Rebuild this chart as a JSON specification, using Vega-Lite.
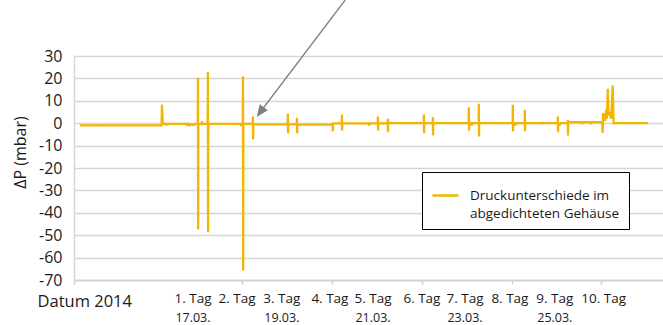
{
  "$schema": "https://vega.github.io/schema/vega-lite/v6.json",
  "autosize": "none",
  "width": 589,
  "height": 224,
  "padding": {"left": 74, "top": 56, "right": 0, "bottom": 45},
  "background": "white",
  "config": {
    "font": "Open Sans",
    "view": {"stroke": null},
    "style": {"guide-label": {"lineHeight": 18}},
    "axis": {"labelColor": "#1a1a1a", "titleColor": "#1a1a1a", "titleFontWeight": "normal", "labelFont": "Open Sans", "titleFont": "Open Sans"}
  },
  "resolve": {"axis": {"x": "independent", "y": "independent"}},
  "layer": [
    {
      "data": {"values": [
        {"t": 0.13, "v": -1.0, "s": "Druckunterschiede im abgedichteten Gehäuse"},
        {"t": 0.55, "v": -1.0, "s": "Druckunterschiede im abgedichteten Gehäuse"},
        {"t": 0.56, "v": -0.5, "s": "Druckunterschiede im abgedichteten Gehäuse"},
        {"t": 0.57, "v": -1.0, "s": "Druckunterschiede im abgedichteten Gehäuse"},
        {"t": 1.55, "v": -1.0, "s": "Druckunterschiede im abgedichteten Gehäuse"},
        {"t": 1.56, "v": -0.5, "s": "Druckunterschiede im abgedichteten Gehäuse"},
        {"t": 1.57, "v": -1.0, "s": "Druckunterschiede im abgedichteten Gehäuse"},
        {"t": 1.95, "v": -1.0, "s": "Druckunterschiede im abgedichteten Gehäuse"},
        {"t": 1.96, "v": 8.3, "s": "Druckunterschiede im abgedichteten Gehäuse"},
        {"t": 1.975, "v": 0.5, "s": "Druckunterschiede im abgedichteten Gehäuse"},
        {"t": 1.99, "v": -0.2, "s": "Druckunterschiede im abgedichteten Gehäuse"},
        {"t": 2.05, "v": -0.3, "s": "Druckunterschiede im abgedichteten Gehäuse"},
        {"t": 2.06, "v": -1.0, "s": "Druckunterschiede im abgedichteten Gehäuse"},
        {"t": 2.07, "v": -0.3, "s": "Druckunterschiede im abgedichteten Gehäuse"},
        {"t": 2.5, "v": -0.3, "s": "Druckunterschiede im abgedichteten Gehäuse"},
        {"t": 2.52, "v": -1.0, "s": "Druckunterschiede im abgedichteten Gehäuse"},
        {"t": 2.54, "v": -0.3, "s": "Druckunterschiede im abgedichteten Gehäuse"},
        {"t": 2.58, "v": -1.0, "s": "Druckunterschiede im abgedichteten Gehäuse"},
        {"t": 2.6, "v": -0.5, "s": "Druckunterschiede im abgedichteten Gehäuse"},
        {"t": 2.68, "v": -0.8, "s": "Druckunterschiede im abgedichteten Gehäuse"},
        {"t": 2.7, "v": -0.3, "s": "Druckunterschiede im abgedichteten Gehäuse"},
        {"t": 2.758, "v": -0.3, "s": "Druckunterschiede im abgedichteten Gehäuse"},
        {"t": 2.762, "v": 20.3, "s": "Druckunterschiede im abgedichteten Gehäuse"},
        {"t": 2.766, "v": -47.5, "s": "Druckunterschiede im abgedichteten Gehäuse"},
        {"t": 2.77, "v": -0.3, "s": "Druckunterschiede im abgedichteten Gehäuse"},
        {"t": 2.84, "v": -0.4, "s": "Druckunterschiede im abgedichteten Gehäuse"},
        {"t": 2.85, "v": 0.8, "s": "Druckunterschiede im abgedichteten Gehäuse"},
        {"t": 2.86, "v": -0.8, "s": "Druckunterschiede im abgedichteten Gehäuse"},
        {"t": 2.87, "v": -0.3, "s": "Druckunterschiede im abgedichteten Gehäuse"},
        {"t": 2.978, "v": -0.3, "s": "Druckunterschiede im abgedichteten Gehäuse"},
        {"t": 2.982, "v": 22.8, "s": "Druckunterschiede im abgedichteten Gehäuse"},
        {"t": 2.986, "v": -48.7, "s": "Druckunterschiede im abgedichteten Gehäuse"},
        {"t": 2.99, "v": -6.0, "s": "Druckunterschiede im abgedichteten Gehäuse"},
        {"t": 2.995, "v": -1.0, "s": "Druckunterschiede im abgedichteten Gehäuse"},
        {"t": 3.0, "v": -0.3, "s": "Druckunterschiede im abgedichteten Gehäuse"},
        {"t": 3.7, "v": -0.3, "s": "Druckunterschiede im abgedichteten Gehäuse"},
        {"t": 3.72, "v": -1.2, "s": "Druckunterschiede im abgedichteten Gehäuse"},
        {"t": 3.74, "v": -0.3, "s": "Druckunterschiede im abgedichteten Gehäuse"},
        {"t": 3.76, "v": -0.3, "s": "Druckunterschiede im abgedichteten Gehäuse"},
        {"t": 3.764, "v": 21.0, "s": "Druckunterschiede im abgedichteten Gehäuse"},
        {"t": 3.768, "v": -65.8, "s": "Druckunterschiede im abgedichteten Gehäuse"},
        {"t": 3.772, "v": -0.3, "s": "Druckunterschiede im abgedichteten Gehäuse"},
        {"t": 3.98, "v": -0.3, "s": "Druckunterschiede im abgedichteten Gehäuse"},
        {"t": 3.985, "v": 3.0, "s": "Druckunterschiede im abgedichteten Gehäuse"},
        {"t": 3.99, "v": -7.3, "s": "Druckunterschiede im abgedichteten Gehäuse"},
        {"t": 3.995, "v": -0.5, "s": "Druckunterschiede im abgedichteten Gehäuse"},
        {"t": 4.76, "v": -0.5, "s": "Druckunterschiede im abgedichteten Gehäuse"},
        {"t": 4.764, "v": 4.2, "s": "Druckunterschiede im abgedichteten Gehäuse"},
        {"t": 4.768, "v": -4.5, "s": "Druckunterschiede im abgedichteten Gehäuse"},
        {"t": 4.772, "v": -0.5, "s": "Druckunterschiede im abgedichteten Gehäuse"},
        {"t": 4.962, "v": -0.5, "s": "Druckunterschiede im abgedichteten Gehäuse"},
        {"t": 4.966, "v": 2.4, "s": "Druckunterschiede im abgedichteten Gehäuse"},
        {"t": 4.97, "v": -4.5, "s": "Druckunterschiede im abgedichteten Gehäuse"},
        {"t": 4.974, "v": -0.5, "s": "Druckunterschiede im abgedichteten Gehäuse"},
        {"t": 5.76, "v": -0.6, "s": "Druckunterschiede im abgedichteten Gehäuse"},
        {"t": 5.765, "v": -3.6, "s": "Druckunterschiede im abgedichteten Gehäuse"},
        {"t": 5.77, "v": -0.1, "s": "Druckunterschiede im abgedichteten Gehäuse"},
        {"t": 5.964, "v": -0.1, "s": "Druckunterschiede im abgedichteten Gehäuse"},
        {"t": 5.968, "v": 3.9, "s": "Druckunterschiede im abgedichteten Gehäuse"},
        {"t": 5.972, "v": -3.3, "s": "Druckunterschiede im abgedichteten Gehäuse"},
        {"t": 5.976, "v": -0.1, "s": "Druckunterschiede im abgedichteten Gehäuse"},
        {"t": 6.56, "v": -0.1, "s": "Druckunterschiede im abgedichteten Gehäuse"},
        {"t": 6.57, "v": -1.0, "s": "Druckunterschiede im abgedichteten Gehäuse"},
        {"t": 6.58, "v": -0.1, "s": "Druckunterschiede im abgedichteten Gehäuse"},
        {"t": 6.766, "v": -0.1, "s": "Druckunterschiede im abgedichteten Gehäuse"},
        {"t": 6.77, "v": 3.0, "s": "Druckunterschiede im abgedichteten Gehäuse"},
        {"t": 6.774, "v": -3.3, "s": "Druckunterschiede im abgedichteten Gehäuse"},
        {"t": 6.778, "v": -0.1, "s": "Druckunterschiede im abgedichteten Gehäuse"},
        {"t": 6.986, "v": -0.1, "s": "Druckunterschiede im abgedichteten Gehäuse"},
        {"t": 6.99, "v": 2.0, "s": "Druckunterschiede im abgedichteten Gehäuse"},
        {"t": 6.994, "v": -4.0, "s": "Druckunterschiede im abgedichteten Gehäuse"},
        {"t": 6.998, "v": 0.6, "s": "Druckunterschiede im abgedichteten Gehäuse"},
        {"t": 7.02, "v": 0.0, "s": "Druckunterschiede im abgedichteten Gehäuse"},
        {"t": 7.79, "v": 0.0, "s": "Druckunterschiede im abgedichteten Gehäuse"},
        {"t": 7.794, "v": 3.9, "s": "Druckunterschiede im abgedichteten Gehäuse"},
        {"t": 7.798, "v": -4.5, "s": "Druckunterschiede im abgedichteten Gehäuse"},
        {"t": 7.802, "v": 0.0, "s": "Druckunterschiede im abgedichteten Gehäuse"},
        {"t": 7.99, "v": 0.0, "s": "Druckunterschiede im abgedichteten Gehäuse"},
        {"t": 7.994, "v": 2.7, "s": "Druckunterschiede im abgedichteten Gehäuse"},
        {"t": 7.998, "v": -5.5, "s": "Druckunterschiede im abgedichteten Gehäuse"},
        {"t": 8.002, "v": 0.0, "s": "Druckunterschiede im abgedichteten Gehäuse"},
        {"t": 8.79, "v": 0.0, "s": "Druckunterschiede im abgedichteten Gehäuse"},
        {"t": 8.795, "v": 7.1, "s": "Druckunterschiede im abgedichteten Gehäuse"},
        {"t": 8.8, "v": -3.3, "s": "Druckunterschiede im abgedichteten Gehäuse"},
        {"t": 8.805, "v": 0.0, "s": "Druckunterschiede im abgedichteten Gehäuse"},
        {"t": 8.85, "v": 0.0, "s": "Druckunterschiede im abgedichteten Gehäuse"},
        {"t": 8.86, "v": -1.0, "s": "Druckunterschiede im abgedichteten Gehäuse"},
        {"t": 8.88, "v": 0.0, "s": "Druckunterschiede im abgedichteten Gehäuse"},
        {"t": 9.014, "v": 0.0, "s": "Druckunterschiede im abgedichteten Gehäuse"},
        {"t": 9.018, "v": 8.7, "s": "Druckunterschiede im abgedichteten Gehäuse"},
        {"t": 9.022, "v": -5.9, "s": "Druckunterschiede im abgedichteten Gehäuse"},
        {"t": 9.026, "v": 0.0, "s": "Druckunterschiede im abgedichteten Gehäuse"},
        {"t": 9.771, "v": 0.0, "s": "Druckunterschiede im abgedichteten Gehäuse"},
        {"t": 9.775, "v": 8.2, "s": "Druckunterschiede im abgedichteten Gehäuse"},
        {"t": 9.779, "v": -3.7, "s": "Druckunterschiede im abgedichteten Gehäuse"},
        {"t": 9.783, "v": 0.0, "s": "Druckunterschiede im abgedichteten Gehäuse"},
        {"t": 9.82, "v": 0.0, "s": "Druckunterschiede im abgedichteten Gehäuse"},
        {"t": 9.83, "v": -1.0, "s": "Druckunterschiede im abgedichteten Gehäuse"},
        {"t": 9.84, "v": 0.0, "s": "Druckunterschiede im abgedichteten Gehäuse"},
        {"t": 10.039, "v": 0.0, "s": "Druckunterschiede im abgedichteten Gehäuse"},
        {"t": 10.043, "v": 6.0, "s": "Druckunterschiede im abgedichteten Gehäuse"},
        {"t": 10.047, "v": -3.6, "s": "Druckunterschiede im abgedichteten Gehäuse"},
        {"t": 10.051, "v": 0.0, "s": "Druckunterschiede im abgedichteten Gehäuse"},
        {"t": 10.44, "v": 0.0, "s": "Druckunterschiede im abgedichteten Gehäuse"},
        {"t": 10.445, "v": 0.6, "s": "Druckunterschiede im abgedichteten Gehäuse"},
        {"t": 10.45, "v": 0.0, "s": "Druckunterschiede im abgedichteten Gehäuse"},
        {"t": 10.774, "v": 0.0, "s": "Druckunterschiede im abgedichteten Gehäuse"},
        {"t": 10.778, "v": 3.0, "s": "Druckunterschiede im abgedichteten Gehäuse"},
        {"t": 10.782, "v": -4.0, "s": "Druckunterschiede im abgedichteten Gehäuse"},
        {"t": 10.786, "v": 0.0, "s": "Druckunterschiede im abgedichteten Gehäuse"},
        {"t": 10.82, "v": -1.0, "s": "Druckunterschiede im abgedichteten Gehäuse"},
        {"t": 10.84, "v": 0.0, "s": "Druckunterschiede im abgedichteten Gehäuse"},
        {"t": 10.996, "v": 0.0, "s": "Druckunterschiede im abgedichteten Gehäuse"},
        {"t": 11.0, "v": 1.5, "s": "Druckunterschiede im abgedichteten Gehäuse"},
        {"t": 11.004, "v": -5.5, "s": "Druckunterschiede im abgedichteten Gehäuse"},
        {"t": 11.008, "v": 0.5, "s": "Druckunterschiede im abgedichteten Gehäuse"},
        {"t": 11.3, "v": 0.5, "s": "Druckunterschiede im abgedichteten Gehäuse"},
        {"t": 11.32, "v": 0.0, "s": "Druckunterschiede im abgedichteten Gehäuse"},
        {"t": 11.34, "v": 0.5, "s": "Druckunterschiede im abgedichteten Gehäuse"},
        {"t": 11.5, "v": 0.5, "s": "Druckunterschiede im abgedichteten Gehäuse"},
        {"t": 11.52, "v": 0.0, "s": "Druckunterschiede im abgedichteten Gehäuse"},
        {"t": 11.54, "v": 0.5, "s": "Druckunterschiede im abgedichteten Gehäuse"},
        {"t": 11.765, "v": 0.5, "s": "Druckunterschiede im abgedichteten Gehäuse"},
        {"t": 11.775, "v": -4.3, "s": "Druckunterschiede im abgedichteten Gehäuse"},
        {"t": 11.785, "v": 4.5, "s": "Druckunterschiede im abgedichteten Gehäuse"},
        {"t": 11.795, "v": 1.5, "s": "Druckunterschiede im abgedichteten Gehäuse"},
        {"t": 11.81, "v": 3.5, "s": "Druckunterschiede im abgedichteten Gehäuse"},
        {"t": 11.83, "v": 1.0, "s": "Druckunterschiede im abgedichteten Gehäuse"},
        {"t": 11.85, "v": 6.0, "s": "Druckunterschiede im abgedichteten Gehäuse"},
        {"t": 11.87, "v": 2.0, "s": "Druckunterschiede im abgedichteten Gehäuse"},
        {"t": 11.89, "v": 15.4, "s": "Druckunterschiede im abgedichteten Gehäuse"},
        {"t": 11.905, "v": 3.4, "s": "Druckunterschiede im abgedichteten Gehäuse"},
        {"t": 11.935, "v": 5.0, "s": "Druckunterschiede im abgedichteten Gehäuse"},
        {"t": 11.965, "v": 2.0, "s": "Druckunterschiede im abgedichteten Gehäuse"},
        {"t": 12.0, "v": 16.8, "s": "Druckunterschiede im abgedichteten Gehäuse"},
        {"t": 12.02, "v": 0.0, "s": "Druckunterschiede im abgedichteten Gehäuse"},
        {"t": 12.78, "v": 0.0, "s": "Druckunterschiede im abgedichteten Gehäuse"}
      ]},
      "mark": {"type": "line", "strokeWidth": 2.3, "strokeJoin": "miter", "strokeMiterLimit": 2},
      "encoding": {
        "x": {
          "field": "t", "type": "quantitative",
          "scale": {"domain": [0, 13.12], "nice": false, "zero": false},
          "axis": {
            "orient": "bottom",
            "values": [0, 3.75, 5.75, 7.75, 9.75, 11.75],
            "labels": false, "grid": false,
            "domainColor": "#d0d0d0", "domainWidth": 1.5,
            "tickColor": "#d0d0d0", "tickWidth": 1.5, "tickSize": 4,
            "title": "Datum 2014", "titleFontSize": 16.5, "titleX": -37, "titleY": 21,
            "titleAlign": "left", "titleBaseline": "middle", "titleAnchor": "start"
          }
        },
        "y": {
          "field": "v", "type": "quantitative",
          "scale": {"domain": [-70, 30], "nice": false, "zero": false},
          "axis": {
            "orient": "left",
            "values": [-70, -60, -50, -40, -30, -20, -10, 0, 10, 20, 30],
            "labelExpr": "datum.value < 0 ? '-' + abs(datum.value) : '' + datum.value",
            "labelOverlap": false, "labelBound": false, "labelFlush": false,
            "grid": true, "gridColor": "#d6d6d6", "gridWidth": 1.5,
            "domain": true, "domainColor": "#d6d6d6", "domainWidth": 1.5, "ticks": false,
            "labelFontSize": 16, "labelPadding": 12,
            "title": "ΔP (mbar)", "titleFontSize": 16, "titleAngle": -90,
            "titleX": -54, "titleY": 96, "titleAlign": "center", "titleBaseline": "middle"
          }
        },
        "color": {
          "field": "s", "type": "nominal",
          "scale": {"range": ["#F2B600"]},
          "legend": {
            "title": null, "orient": "none", "legendX": 348, "legendY": 116,
            "symbolType": "stroke", "symbolSize": 676, "symbolStrokeWidth": 2.5,
            "labelExpr": "['Druckunterschiede im', 'abgedichteten Gehäuse']",
            "labelFontSize": 13.5, "labelColor": "#1a1a1a", "labelLimit": 300, "labelOffset": 10,
            "strokeColor": "#000000", "padding": 9, "fillColor": "white"
          }
        }
      }
    },
    {
      "data": {"values": [
        {"d": 2.65, "tag": "1. Tag"},
        {"d": 3.63, "tag": "2. Tag"},
        {"d": 4.63, "tag": "3. Tag"},
        {"d": 5.70, "tag": "4. Tag"},
        {"d": 6.66, "tag": "5. Tag"},
        {"d": 7.75, "tag": "6. Tag"},
        {"d": 8.71, "tag": "7. Tag"},
        {"d": 9.71, "tag": "8. Tag"},
        {"d": 10.71, "tag": "9. Tag"},
        {"d": 11.80, "tag": "10. Tag"}
      ]},
      "mark": {"type": "text", "fontSize": 13.5, "dy": 19, "baseline": "middle", "align": "center", "color": "#1a1a1a", "font": "Open Sans"},
      "encoding": {
        "x": {"field": "d", "type": "quantitative", "axis": null},
        "y": {"datum": -70, "type": "quantitative", "axis": null},
        "text": {"field": "tag"}
      }
    },
    {
      "data": {"values": [
        {"d": 2.65, "date": "17.03."},
        {"d": 4.63, "date": "19.03."},
        {"d": 6.66, "date": "21.03."},
        {"d": 8.71, "date": "23.03."},
        {"d": 10.71, "date": "25.03."}
      ]},
      "mark": {"type": "text", "fontSize": 12.5, "dy": 38, "baseline": "middle", "align": "center", "color": "#1a1a1a", "font": "Open Sans"},
      "encoding": {
        "x": {"field": "d", "type": "quantitative", "axis": null},
        "y": {"datum": -70, "type": "quantitative", "axis": null},
        "text": {"field": "date"}
      }
    },
    {
      "data": {"values": [{"note": "Pfeil"}]},
      "mark": {"type": "rule", "color": "#808080", "strokeWidth": 1.3},
      "encoding": {
        "x": {"datum": 6.04, "type": "quantitative", "axis": null},
        "y": {"datum": 55, "type": "quantitative", "axis": null},
        "x2": {"datum": 4.15},
        "y2": {"datum": 5}
      }
    },
    {
      "data": {"values": [{"note": "Pfeilspitze"}]},
      "mark": {"type": "point", "shape": "M0,0L-0.42,1L0.42,1Z", "filled": true, "color": "#808080", "opacity": 1, "size": 576, "angle": 216},
      "encoding": {
        "x": {"datum": 4.07, "type": "quantitative", "axis": null},
        "y": {"datum": 2.8, "type": "quantitative", "axis": null}
      }
    }
  ]
}
